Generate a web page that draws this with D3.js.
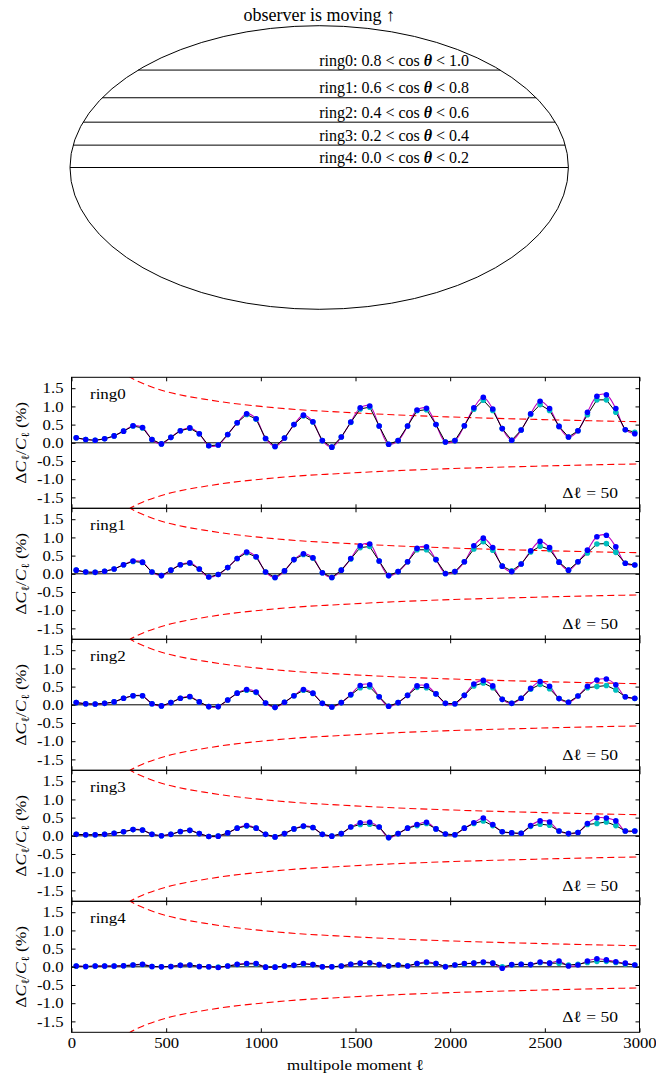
<!DOCTYPE html>
<html>
<head>
<meta charset="utf-8">
<script src="https://cdn.jsdelivr.net/npm/d3@7"></script>
<style>
  body { margin: 0; background: #fff; }
  text { font-family: "Liberation Serif", "Times New Roman", "DejaVu Serif", serif; fill: #000; }
</style>
</head>
<body>
<svg id="chart" width="656" height="1074"></svg>
<script>
// ---- data ----
const ringNames = ['ring0', 'ring1', 'ring2', 'ring3', 'ring4'];
const cosBounds = [1.0, 0.8, 0.6, 0.4, 0.2, 0.0];

// bin centres, delta ell = 50
const ell = [25, 75, 125, 175, 225, 275, 325, 375, 425, 475,
  525, 575, 625, 675, 725, 775, 825, 875, 925, 975,
  1025, 1075, 1125, 1175, 1225, 1275, 1325, 1375, 1425, 1475,
  1525, 1575, 1625, 1675, 1725, 1775, 1825, 1875, 1925, 1975,
  2025, 2075, 2125, 2175, 2225, 2275, 2325, 2375, 2425, 2475,
  2525, 2575, 2625, 2675, 2725, 2775, 2825, 2875, 2925, 2975];

const ring0Blue = [0.14, 0.09, 0.07, 0.11, 0.19, 0.32, 0.47, 0.42, 0.09, -0.03,
  0.15, 0.33, 0.41, 0.25, -0.08, -0.06, 0.23, 0.55, 0.80, 0.66,
  0.12, -0.10, 0.13, 0.50, 0.76, 0.58, 0.06, -0.12, 0.16, 0.57,
  0.96, 1.01, 0.46, -0.04, 0.06, 0.46, 0.90, 0.95, 0.50, 0.02,
  0.06, 0.47, 0.96, 1.25, 0.93, 0.39, 0.07, 0.35, 0.80, 1.14,
  0.94, 0.45, 0.16, 0.33, 0.84, 1.28, 1.32, 0.94, 0.36, 0.25];
const ring0Cyan = [0.14, 0.09, 0.07, 0.11, 0.19, 0.32, 0.46, 0.41, 0.09, -0.03,
  0.15, 0.33, 0.40, 0.25, -0.08, -0.06, 0.23, 0.55, 0.78, 0.65,
  0.12, -0.10, 0.13, 0.50, 0.74, 0.57, 0.06, -0.12, 0.16, 0.56,
  0.93, 0.98, 0.46, -0.04, 0.06, 0.46, 0.88, 0.91, 0.50, 0.02,
  0.06, 0.47, 0.92, 1.17, 0.89, 0.39, 0.07, 0.35, 0.78, 1.05,
  0.89, 0.45, 0.16, 0.33, 0.77, 1.18, 1.18, 0.84, 0.36, 0.29];

const ring1Blue = [0.10, 0.05, 0.04, 0.07, 0.13, 0.25, 0.35, 0.32, 0.05, -0.05,
  0.10, 0.25, 0.30, 0.13, -0.09, -0.02, 0.17, 0.42, 0.60, 0.47,
  0.05, -0.10, 0.08, 0.39, 0.55, 0.44, 0.03, -0.10, 0.10, 0.42,
  0.77, 0.82, 0.35, -0.05, 0.06, 0.33, 0.70, 0.74, 0.39, 0.01,
  0.06, 0.33, 0.77, 0.98, 0.72, 0.21, 0.06, 0.27, 0.63, 0.89,
  0.72, 0.32, 0.10, 0.33, 0.65, 1.02, 1.06, 0.74, 0.29, 0.24];
const ring1Cyan = [0.10, 0.05, 0.04, 0.07, 0.13, 0.25, 0.34, 0.31, 0.05, -0.05,
  0.10, 0.25, 0.29, 0.13, -0.09, -0.02, 0.17, 0.42, 0.58, 0.46,
  0.05, -0.10, 0.08, 0.39, 0.53, 0.43, 0.03, -0.10, 0.10, 0.41,
  0.72, 0.75, 0.35, -0.05, 0.06, 0.33, 0.66, 0.66, 0.39, 0.01,
  0.06, 0.33, 0.68, 0.88, 0.65, 0.21, 0.08, 0.27, 0.60, 0.76,
  0.67, 0.32, 0.10, 0.33, 0.57, 0.82, 0.83, 0.59, 0.29, 0.24];

const ring2Blue = [0.06, 0.03, 0.02, 0.04, 0.08, 0.18, 0.25, 0.25, 0.03, -0.03,
  0.06, 0.18, 0.23, 0.08, -0.05, -0.05, 0.13, 0.32, 0.42, 0.35,
  0.05, -0.07, 0.07, 0.25, 0.42, 0.32, 0.04, -0.06, 0.06, 0.28,
  0.53, 0.55, 0.22, -0.04, 0.06, 0.26, 0.52, 0.52, 0.30, 0.04,
  0.03, 0.26, 0.57, 0.67, 0.52, 0.15, 0.04, 0.18, 0.45, 0.64,
  0.51, 0.17, 0.07, 0.24, 0.51, 0.68, 0.71, 0.55, 0.22, 0.18];
const ring2Cyan = [0.06, 0.03, 0.02, 0.04, 0.08, 0.18, 0.25, 0.25, 0.03, -0.03,
  0.06, 0.18, 0.22, 0.08, -0.05, -0.05, 0.13, 0.32, 0.40, 0.34,
  0.05, -0.07, 0.07, 0.25, 0.40, 0.31, 0.04, -0.06, 0.06, 0.27,
  0.47, 0.49, 0.22, -0.04, 0.06, 0.26, 0.48, 0.47, 0.30, 0.04,
  0.03, 0.26, 0.52, 0.60, 0.47, 0.15, 0.04, 0.18, 0.43, 0.56,
  0.44, 0.17, 0.07, 0.24, 0.47, 0.50, 0.53, 0.41, 0.22, 0.17];

const ring3Blue = [0.04, 0.03, 0.03, 0.04, 0.07, 0.11, 0.17, 0.16, 0.04, 0.00,
  0.04, 0.12, 0.15, 0.06, -0.02, -0.01, 0.08, 0.21, 0.28, 0.21,
  0.04, -0.03, 0.06, 0.19, 0.27, 0.23, 0.04, -0.01, 0.06, 0.24,
  0.36, 0.37, 0.24, -0.05, 0.06, 0.21, 0.31, 0.37, 0.19, 0.05,
  0.03, 0.21, 0.36, 0.49, 0.31, 0.11, 0.08, 0.07, 0.28, 0.41,
  0.38, 0.13, 0.06, 0.09, 0.34, 0.49, 0.49, 0.41, 0.13, 0.13];
const ring3Cyan = [0.04, 0.03, 0.03, 0.04, 0.07, 0.11, 0.17, 0.16, 0.04, 0.00,
  0.04, 0.12, 0.15, 0.06, -0.02, -0.01, 0.08, 0.21, 0.27, 0.21,
  0.04, -0.03, 0.06, 0.19, 0.26, 0.23, 0.04, -0.01, 0.06, 0.24,
  0.31, 0.32, 0.24, -0.05, 0.06, 0.21, 0.28, 0.34, 0.19, 0.05,
  0.03, 0.21, 0.34, 0.41, 0.28, 0.11, 0.08, 0.07, 0.26, 0.32,
  0.29, 0.13, 0.06, 0.09, 0.31, 0.34, 0.38, 0.28, 0.13, 0.13];

const ring4Blue = [0.02, 0.01, 0.02, 0.02, 0.02, 0.03, 0.05, 0.07, 0.01, 0.00,
  0.01, 0.04, 0.05, 0.01, 0.00, -0.02, 0.02, 0.07, 0.09, 0.09,
  -0.01, -0.01, 0.02, 0.04, 0.09, 0.06, 0.00, 0.00, 0.02, 0.07,
  0.10, 0.11, 0.06, 0.02, 0.05, 0.02, 0.09, 0.13, 0.09, 0.00,
  0.05, 0.09, 0.10, 0.13, 0.10, -0.04, 0.06, 0.07, 0.06, 0.13,
  0.10, 0.16, 0.02, 0.05, 0.16, 0.22, 0.19, 0.14, 0.10, 0.05];
const ring4Cyan = [0.02, 0.01, 0.02, 0.02, 0.02, 0.03, 0.05, 0.06, 0.01, 0.00,
  0.01, 0.04, 0.05, 0.01, 0.00, -0.01, 0.02, 0.06, 0.08, 0.08,
  -0.01, -0.01, 0.02, 0.04, 0.08, 0.06, 0.00, 0.00, 0.02, 0.07,
  0.09, 0.10, 0.06, 0.02, 0.05, 0.03, 0.09, 0.11, 0.09, 0.01,
  0.05, 0.08, 0.10, 0.12, 0.10, 0.00, 0.05, 0.07, 0.06, 0.11,
  0.10, 0.10, 0.05, 0.07, 0.12, 0.15, 0.15, 0.12, 0.08, 0.05];

const blueSeries = [ring0Blue, ring1Blue, ring2Blue, ring3Blue, ring4Blue];
const cyanSeries = [ring0Cyan, ring1Cyan, ring2Cyan, ring3Cyan, ring4Cyan];

// cosmic variance envelope (red dashed), read at a few multipoles
const sigmaEll = [250, 300, 350, 400, 500, 600, 700, 800, 1000, 1200, 1400, 1700, 2000, 2400, 2800, 3000];
const sigmaVal = [2.00, 1.83, 1.69, 1.58, 1.41, 1.29, 1.20, 1.12, 1.00, 0.91, 0.85, 0.77, 0.71, 0.65, 0.60, 0.58];

const yTicks = [-1.5, -1.0, -0.5, 0.0, 0.5, 1.0, 1.5];
const xTicks = [0, 500, 1000, 1500, 2000, 2500, 3000];

// ---- layout ----
const svg = d3.select('#chart');

// panel text in the original is a bit wide for its height
function stretch(sel, s) {
  sel.each(function() {
    const t = d3.select(this);
    const x0 = +t.attr('x') || 0, y0 = +t.attr('y') || 0;
    const prev = t.attr('transform') || '';
    t.attr('x', null).attr('y', null)
      .attr('transform', `${prev} translate(${x0},${y0}) scale(${s},1)`);
  });
}

// top sky diagram (Mollweide-style outline)
const cx = 319.2, cy = 167.5, rx = 249.2, ry = 141.8;

svg.append('text')
  .attr('x', cx).attr('y', 21)
  .attr('text-anchor', 'middle')
  .attr('font-size', 18)
  .text('observer is moving \u2191');

svg.append('ellipse')
  .attr('cx', cx).attr('cy', cy).attr('rx', rx).attr('ry', ry)
  .attr('fill', 'none').attr('stroke', '#000').attr('stroke-width', 1);

// mollweide auxiliary angle for sin(latitude) = s
function auxAngle(s) {
  let t = Math.asin(s);
  for (let k = 0; k < 30; k++) {
    const f = 2 * t + Math.sin(2 * t) - Math.PI * s;
    const df = 2 + 2 * Math.cos(2 * t);
    if (df < 1e-9) break;
    t -= f / df;
  }
  return t;
}

const boundLines = cosBounds.slice(1).map(c => {
  const t = auxAngle(c);
  return { c, y: cy - ry * Math.sin(t), hw: rx * Math.cos(t) };
});

svg.selectAll('line.band')
  .data(boundLines)
  .enter().append('line')
  .attr('class', 'band')
  .attr('x1', d => cx - d.hw).attr('x2', d => cx + d.hw)
  .attr('y1', d => d.y).attr('y2', d => d.y)
  .attr('stroke', '#000').attr('stroke-width', 1);

ringNames.forEach((name, i) => {
  const t = svg.append('text')
    .attr('x', cx).attr('y', boundLines[i].y - 4.5)
    .attr('font-size', 16)
    .attr('xml:space', 'preserve');
  t.append('tspan').text(`${name}: ${cosBounds[i + 1].toFixed(1)} < cos `);
  t.append('tspan').attr('font-style', 'italic').attr('font-weight', 'bold').text('\u03b8');
  t.append('tspan').text(` < ${cosBounds[i].toFixed(1)}`);
});

// ---- ring panels ----
const panelTop = 377.3, panelH = 131;
const x = d3.scaleLinear().domain([0, 3000]).range([71.5, 639.5]);
const plotW = x(3000) - x(0);

const fmt = d => d.toFixed(1);

ringNames.forEach((name, i) => {
  const g = svg.append('g').attr('transform', `translate(0,${panelTop + i * panelH})`);
  const y = d3.scaleLinear().domain([-1.8, 1.8]).range([panelH, 0]);

  const clipId = 'clip' + i;
  g.append('clipPath').attr('id', clipId)
    .append('rect').attr('x', x(0)).attr('y', 0).attr('width', plotW).attr('height', panelH);

  const plot = g.append('g').attr('clip-path', `url(#${clipId})`);

  // red dashed envelope
  const env = d3.line().x(d => x(d[0])).y(d => y(d[1])).curve(d3.curveMonotoneX);
  [1, -1].forEach(sgn => {
    plot.append('path')
      .datum(sigmaEll.map((l, k) => [l, sgn * sigmaVal[k]]))
      .attr('d', env)
      .attr('fill', 'none').attr('stroke', '#ff0000').attr('stroke-width', 1.1)
      .attr('stroke-dasharray', '7,4');
  });

  // zero line
  plot.append('line')
    .attr('x1', x(0)).attr('x2', x(3000))
    .attr('y1', y(0)).attr('y2', y(0))
    .attr('stroke', '#000').attr('stroke-width', 1);

  const blue = ell.map((l, k) => [l, blueSeries[i][k]]);
  const cyan = ell.map((l, k) => [l, cyanSeries[i][k]]);

  // theory curve (magenta)
  plot.append('path')
    .datum(blue)
    .attr('d', d3.line().x(d => x(d[0])).y(d => y(d[1])).curve(d3.curveCatmullRom.alpha(0.5)))
    .attr('fill', 'none').attr('stroke', '#bf00bf').attr('stroke-width', 1.1);

  // black line through cyan points
  plot.append('path')
    .datum(cyan)
    .attr('d', d3.line().x(d => x(d[0])).y(d => y(d[1])))
    .attr('fill', 'none').attr('stroke', '#000').attr('stroke-width', 1);

  plot.selectAll('circle.cyan')
    .data(cyan).enter().append('circle')
    .attr('class', 'cyan')
    .attr('cx', d => x(d[0])).attr('cy', d => y(d[1])).attr('r', 2.8)
    .attr('fill', '#00bfbf');

  plot.selectAll('circle.blue')
    .data(blue).enter().append('circle')
    .attr('class', 'blue')
    .attr('cx', d => x(d[0])).attr('cy', d => y(d[1])).attr('r', 2.8)
    .attr('fill', '#0000ff');

  // axes, ticks inward
  const left = g.append('g').attr('transform', `translate(${x(0)},0)`)
    .call(d3.axisLeft(y).tickValues(yTicks).tickFormat(fmt).tickSizeInner(-4).tickSizeOuter(0).tickPadding(8));
  const right = g.append('g').attr('transform', `translate(${x(3000)},0)`)
    .call(d3.axisRight(y).tickValues(yTicks).tickFormat('').tickSizeInner(-4).tickSizeOuter(0));
  const top = g.append('g')
    .call(d3.axisTop(x).tickValues(xTicks).tickFormat('').tickSizeInner(-4).tickSizeOuter(0));
  const bottom = g.append('g').attr('transform', `translate(0,${panelH})`)
    .call(d3.axisBottom(x).tickValues(xTicks).tickFormat(i === 4 ? d3.format('d') : '')
      .tickSizeInner(-4).tickSizeOuter(0).tickPadding(5));

  [left, right, top, bottom].forEach(a => {
    a.attr('font-family', null).attr('font-size', null);
    a.select('.domain').remove();
    a.selectAll('.tick line').attr('stroke', '#000').attr('stroke-width', 1);
    a.selectAll('text').attr('font-size', 14.8).attr('fill', '#000').call(stretch, 1.13);
  });

  // frame
  g.append('rect')
    .attr('x', x(0)).attr('y', 0).attr('width', plotW).attr('height', panelH)
    .attr('fill', 'none').attr('stroke', '#000').attr('stroke-width', 1);

  // ring label
  g.append('text').attr('x', 90).attr('y', 22).attr('font-size', 15).text(name).call(stretch, 1.13);

  // delta ell label
  const dl = g.append('text').attr('x', 618).attr('y', panelH - 10.5)
    .attr('text-anchor', 'end').attr('font-size', 15.5)
    .attr('xml:space', 'preserve');
  dl.append('tspan').text('\u0394');
  dl.append('tspan').text('\u2113');
  dl.append('tspan').text(' = 50');
  dl.call(stretch, 1.13);

  // y label
  const yl = g.append('text')
    .attr('transform', `translate(26,${panelH / 2}) rotate(-90) scale(1.13,1)`)
    .attr('text-anchor', 'middle').attr('font-size', 15.5)
    .attr('xml:space', 'preserve');
  yl.append('tspan').text('\u0394');
  yl.append('tspan').attr('font-style', 'italic').text('C');
  yl.append('tspan').attr('font-size', 11).attr('dy', 3).text('\u2113');
  yl.append('tspan').attr('dy', -3).text('/');
  yl.append('tspan').attr('font-style', 'italic').text('C');
  yl.append('tspan').attr('font-size', 11).attr('dy', 3).text('\u2113');
  yl.append('tspan').attr('dy', -3).text(' (%)');
});

svg.append('text')
  .attr('x', (x(0) + x(3000)) / 2).attr('y', 1069.5)
  .attr('text-anchor', 'middle').attr('font-size', 15)
  .text('multipole moment \u2113')
  .call(stretch, 1.13);
</script>
</body>
</html>
